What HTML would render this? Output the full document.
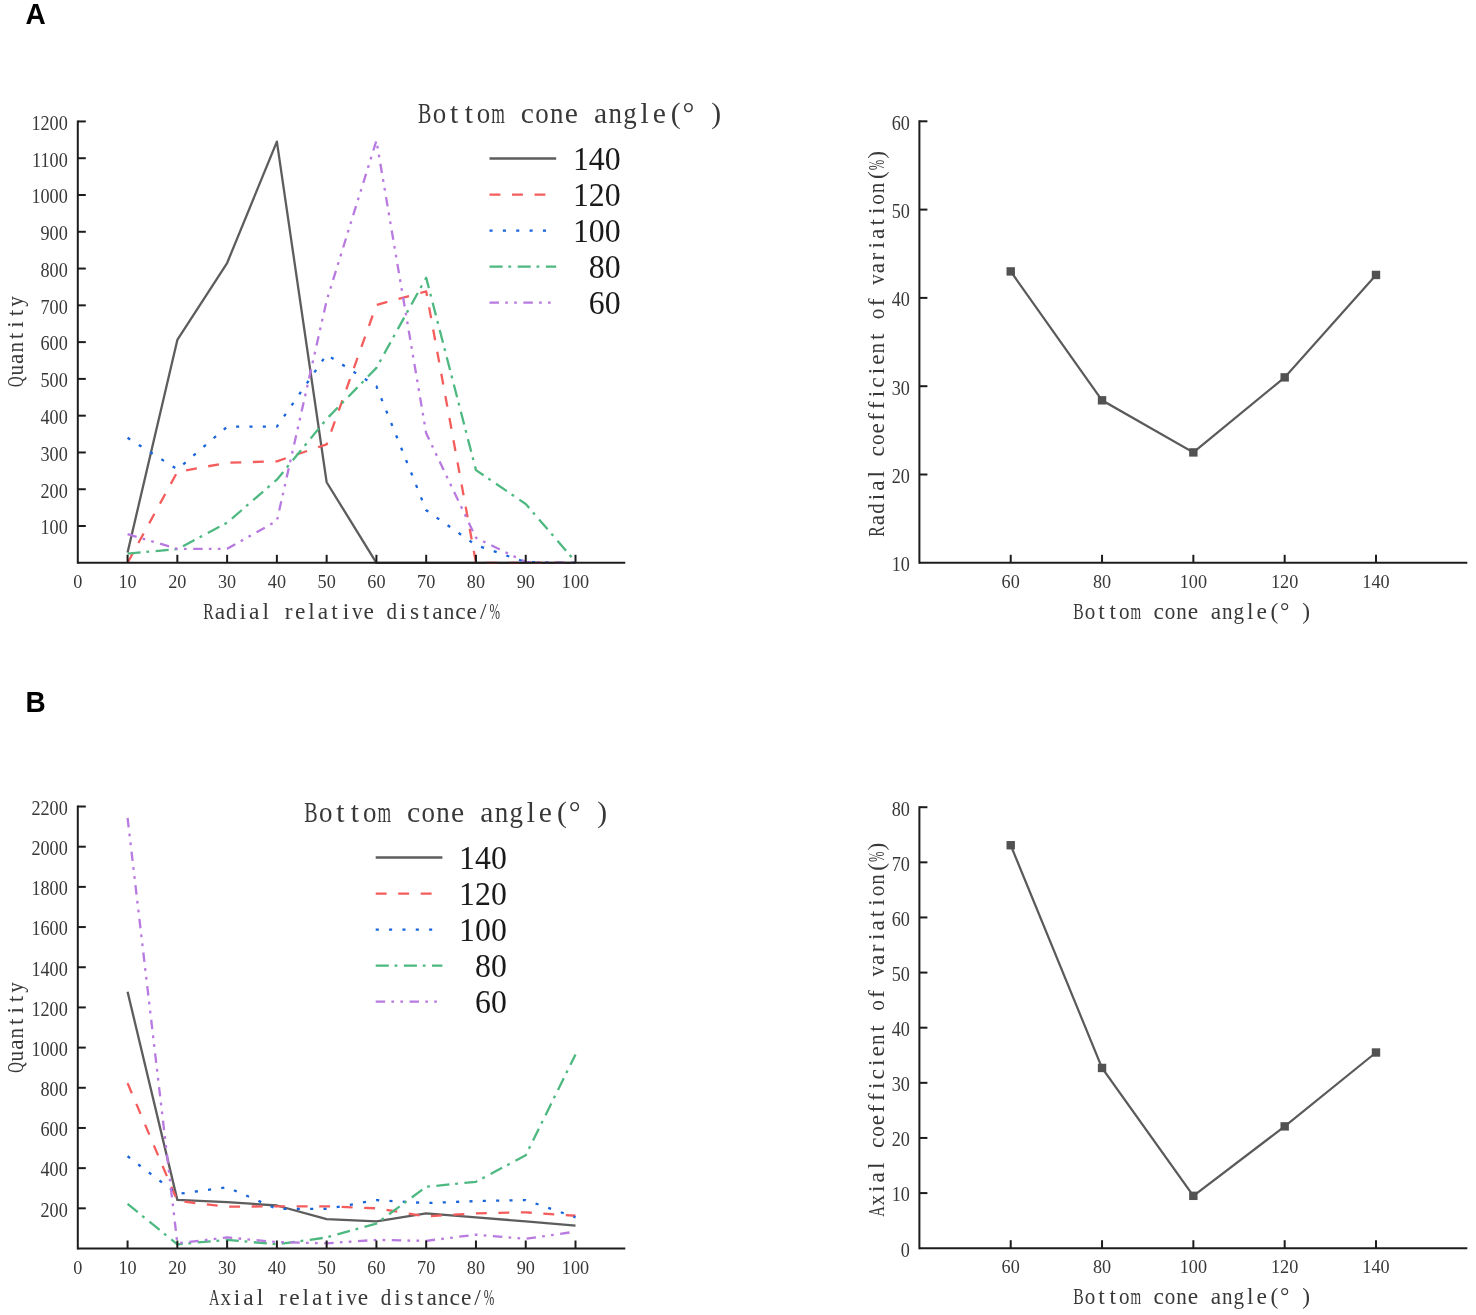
<!DOCTYPE html>
<html><head><meta charset="utf-8"><title>Bottom cone angle charts</title>
<style>html,body{margin:0;padding:0;background:#fff;}svg{display:block;filter:blur(0.35px);}</style>
</head><body>
<svg width="1476" height="1315" viewBox="0 0 1476 1315">
<rect width="1476" height="1315" fill="#fff"/>
<text transform="translate(25.6,23.8) scale(0.965,1)" font-family='"Liberation Sans", sans-serif' font-weight="bold" font-size="29" fill="#000">A</text>
<text transform="translate(25.4,711.9) scale(0.965,1)" font-family='"Liberation Sans", sans-serif' font-weight="bold" font-size="29" fill="#000">B</text>
<polyline points="127.57,552.5 177.34,339.91 227.11,263.04 276.88,141.67 326.65,482.25 376.42,562.8 426.19,562.8 475.96,562.8 525.73,562.8 575.5,562.8" fill="none" stroke="#5d5d5d" stroke-width="2.3" stroke-linejoin="round" />
<polyline points="127.57,562.8 177.34,471.95 227.11,462.76 276.88,461.29 326.65,444.37 376.42,304.97 426.19,291.36 475.96,562.8 525.73,562.8 575.5,562.8" fill="none" stroke="#f55c5c" stroke-width="2.3" stroke-linejoin="round" stroke-dasharray="10.9 11.6" stroke-dashoffset="0"/>
<polyline points="127.57,437.75 177.34,469.38 227.11,426.71 276.88,426.71 326.65,354.63 376.42,386.26 426.19,510.2 475.96,545.15 525.73,562.06 575.5,562.8" fill="none" stroke="#1864dc" stroke-width="2.3" stroke-linejoin="round" stroke-dasharray="3.1 10.25" stroke-dashoffset="0"/>
<polyline points="127.57,553.6 177.34,549.19 227.11,522.71 276.88,479.68 326.65,418.99 376.42,367.87 426.19,277.75 475.96,470.11 525.73,503.95 575.5,561.7" fill="none" stroke="#4db880" stroke-width="2.3" stroke-linejoin="round" stroke-dasharray="13.1 5.75 2.8 6.52" stroke-dashoffset="0"/>
<polyline points="127.57,534.11 177.34,548.82 227.11,548.82 276.88,520.87 326.65,300.56 376.42,140.57 426.19,433.33 475.96,537.79 525.73,562.06 575.5,562.8" fill="none" stroke="#b87ae0" stroke-width="2.3" stroke-linejoin="round" stroke-dasharray="9.45 6.25 2.7 6.25 2.7 6.51" stroke-dashoffset="0"/>
<line x1="77.8" y1="562.8" x2="625.27" y2="562.8" stroke="#1c1c1c" stroke-width="2" />
<line x1="77.8" y1="563.8" x2="77.8" y2="120.44" stroke="#1c1c1c" stroke-width="2" />
<line x1="127.57" y1="562.8" x2="127.57" y2="554.8" stroke="#1c1c1c" stroke-width="2" />
<line x1="177.34" y1="562.8" x2="177.34" y2="554.8" stroke="#1c1c1c" stroke-width="2" />
<line x1="227.11" y1="562.8" x2="227.11" y2="554.8" stroke="#1c1c1c" stroke-width="2" />
<line x1="276.88" y1="562.8" x2="276.88" y2="554.8" stroke="#1c1c1c" stroke-width="2" />
<line x1="326.65" y1="562.8" x2="326.65" y2="554.8" stroke="#1c1c1c" stroke-width="2" />
<line x1="376.42" y1="562.8" x2="376.42" y2="554.8" stroke="#1c1c1c" stroke-width="2" />
<line x1="426.19" y1="562.8" x2="426.19" y2="554.8" stroke="#1c1c1c" stroke-width="2" />
<line x1="475.96" y1="562.8" x2="475.96" y2="554.8" stroke="#1c1c1c" stroke-width="2" />
<line x1="525.73" y1="562.8" x2="525.73" y2="554.8" stroke="#1c1c1c" stroke-width="2" />
<line x1="575.5" y1="562.8" x2="575.5" y2="554.8" stroke="#1c1c1c" stroke-width="2" />
<line x1="77.8" y1="526.02" x2="85.8" y2="526.02" stroke="#1c1c1c" stroke-width="2" />
<line x1="77.8" y1="489.24" x2="85.8" y2="489.24" stroke="#1c1c1c" stroke-width="2" />
<line x1="77.8" y1="452.46" x2="85.8" y2="452.46" stroke="#1c1c1c" stroke-width="2" />
<line x1="77.8" y1="415.68" x2="85.8" y2="415.68" stroke="#1c1c1c" stroke-width="2" />
<line x1="77.8" y1="378.9" x2="85.8" y2="378.9" stroke="#1c1c1c" stroke-width="2" />
<line x1="77.8" y1="342.12" x2="85.8" y2="342.12" stroke="#1c1c1c" stroke-width="2" />
<line x1="77.8" y1="305.34" x2="85.8" y2="305.34" stroke="#1c1c1c" stroke-width="2" />
<line x1="77.8" y1="268.56" x2="85.8" y2="268.56" stroke="#1c1c1c" stroke-width="2" />
<line x1="77.8" y1="231.78" x2="85.8" y2="231.78" stroke="#1c1c1c" stroke-width="2" />
<line x1="77.8" y1="195" x2="85.8" y2="195" stroke="#1c1c1c" stroke-width="2" />
<line x1="77.8" y1="158.22" x2="85.8" y2="158.22" stroke="#1c1c1c" stroke-width="2" />
<line x1="77.8" y1="121.44" x2="85.8" y2="121.44" stroke="#1c1c1c" stroke-width="2" />
<text transform="translate(77.8,587.8) scale(0.92,1)" font-family='"Liberation Serif", serif' font-size="19.8" text-anchor="middle" fill="#383838">0</text>
<text transform="translate(127.57,587.8) scale(0.92,1)" font-family='"Liberation Serif", serif' font-size="19.8" text-anchor="middle" fill="#383838">10</text>
<text transform="translate(177.34,587.8) scale(0.92,1)" font-family='"Liberation Serif", serif' font-size="19.8" text-anchor="middle" fill="#383838">20</text>
<text transform="translate(227.11,587.8) scale(0.92,1)" font-family='"Liberation Serif", serif' font-size="19.8" text-anchor="middle" fill="#383838">30</text>
<text transform="translate(276.88,587.8) scale(0.92,1)" font-family='"Liberation Serif", serif' font-size="19.8" text-anchor="middle" fill="#383838">40</text>
<text transform="translate(326.65,587.8) scale(0.92,1)" font-family='"Liberation Serif", serif' font-size="19.8" text-anchor="middle" fill="#383838">50</text>
<text transform="translate(376.42,587.8) scale(0.92,1)" font-family='"Liberation Serif", serif' font-size="19.8" text-anchor="middle" fill="#383838">60</text>
<text transform="translate(426.19,587.8) scale(0.92,1)" font-family='"Liberation Serif", serif' font-size="19.8" text-anchor="middle" fill="#383838">70</text>
<text transform="translate(475.96,587.8) scale(0.92,1)" font-family='"Liberation Serif", serif' font-size="19.8" text-anchor="middle" fill="#383838">80</text>
<text transform="translate(525.73,587.8) scale(0.92,1)" font-family='"Liberation Serif", serif' font-size="19.8" text-anchor="middle" fill="#383838">90</text>
<text transform="translate(575.5,587.8) scale(0.92,1)" font-family='"Liberation Serif", serif' font-size="19.8" text-anchor="middle" fill="#383838">100</text>
<text transform="translate(67.8,534.32) scale(0.85,1)" font-family='"Liberation Serif", serif' font-size="21.4" text-anchor="end" fill="#383838">100</text>
<text transform="translate(67.8,497.54) scale(0.85,1)" font-family='"Liberation Serif", serif' font-size="21.4" text-anchor="end" fill="#383838">200</text>
<text transform="translate(67.8,460.76) scale(0.85,1)" font-family='"Liberation Serif", serif' font-size="21.4" text-anchor="end" fill="#383838">300</text>
<text transform="translate(67.8,423.98) scale(0.85,1)" font-family='"Liberation Serif", serif' font-size="21.4" text-anchor="end" fill="#383838">400</text>
<text transform="translate(67.8,387.2) scale(0.85,1)" font-family='"Liberation Serif", serif' font-size="21.4" text-anchor="end" fill="#383838">500</text>
<text transform="translate(67.8,350.42) scale(0.85,1)" font-family='"Liberation Serif", serif' font-size="21.4" text-anchor="end" fill="#383838">600</text>
<text transform="translate(67.8,313.64) scale(0.85,1)" font-family='"Liberation Serif", serif' font-size="21.4" text-anchor="end" fill="#383838">700</text>
<text transform="translate(67.8,276.86) scale(0.85,1)" font-family='"Liberation Serif", serif' font-size="21.4" text-anchor="end" fill="#383838">800</text>
<text transform="translate(67.8,240.08) scale(0.85,1)" font-family='"Liberation Serif", serif' font-size="21.4" text-anchor="end" fill="#383838">900</text>
<text transform="translate(67.8,203.3) scale(0.85,1)" font-family='"Liberation Serif", serif' font-size="21.4" text-anchor="end" fill="#383838">1000</text>
<text transform="translate(67.8,166.52) scale(0.85,1)" font-family='"Liberation Serif", serif' font-size="21.4" text-anchor="end" fill="#383838">1100</text>
<text transform="translate(67.8,129.74) scale(0.85,1)" font-family='"Liberation Serif", serif' font-size="21.4" text-anchor="end" fill="#383838">1200</text>
<g transform="translate(351.6,618.8)" font-family='"Liberation Serif", serif' font-size="23.4" fill="#383838"><text transform="translate(-143.12,0) scale(0.67,1)" text-anchor="middle">R</text><text x="-131.68" text-anchor="middle">a</text><text transform="translate(-120.22,0) scale(0.9,1)" text-anchor="middle">d</text><text x="-108.78" text-anchor="middle">i</text><text x="-97.32" text-anchor="middle">a</text><text x="-85.88" text-anchor="middle">l</text><text x="-62.97" text-anchor="middle">r</text><text x="-51.53" text-anchor="middle">e</text><text x="-40.08" text-anchor="middle">l</text><text x="-28.62" text-anchor="middle">a</text><text x="-17.18" text-anchor="middle">t</text><text x="-5.72" text-anchor="middle">i</text><text transform="translate(5.72,0) scale(0.9,1)" text-anchor="middle">v</text><text x="17.17" text-anchor="middle">e</text><text transform="translate(40.07,0) scale(0.9,1)" text-anchor="middle">d</text><text x="51.53" text-anchor="middle">i</text><text x="62.97" text-anchor="middle">s</text><text x="74.42" text-anchor="middle">t</text><text x="85.88" text-anchor="middle">a</text><text transform="translate(97.32,0) scale(0.9,1)" text-anchor="middle">n</text><text x="108.78" text-anchor="middle">c</text><text x="120.22" text-anchor="middle">e</text><text x="131.67" text-anchor="middle">/</text><text transform="translate(143.12,0) scale(0.54,1)" text-anchor="middle">%</text></g>
<g transform="translate(22.6,341.6) rotate(-90)" font-family='"Liberation Serif", serif' font-size="23.4" fill="#383838"><text transform="translate(-40.07,0) scale(0.62,1)" text-anchor="middle">Q</text><text transform="translate(-28.62,0) scale(0.9,1)" text-anchor="middle">u</text><text x="-17.17" text-anchor="middle">a</text><text transform="translate(-5.73,0) scale(0.9,1)" text-anchor="middle">n</text><text x="5.73" text-anchor="middle">t</text><text x="17.17" text-anchor="middle">i</text><text x="28.62" text-anchor="middle">t</text><text transform="translate(40.08,0) scale(0.9,1)" text-anchor="middle">y</text></g>
<g transform="translate(571.33,122.5)" font-family='"Liberation Serif", serif' font-size="29.6" fill="#383838"><text transform="translate(-146.5,0) scale(0.68,1)" text-anchor="middle">B</text><text transform="translate(-131.85,0) scale(0.91,1)" text-anchor="middle">o</text><text x="-117.2" text-anchor="middle">t</text><text x="-102.55" text-anchor="middle">t</text><text transform="translate(-87.9,0) scale(0.91,1)" text-anchor="middle">o</text><text transform="translate(-73.25,0) scale(0.59,1)" text-anchor="middle">m</text><text x="-43.95" text-anchor="middle">c</text><text transform="translate(-29.3,0) scale(0.91,1)" text-anchor="middle">o</text><text transform="translate(-14.65,0) scale(0.91,1)" text-anchor="middle">n</text><text x="0" text-anchor="middle">e</text><text x="29.3" text-anchor="middle">a</text><text transform="translate(43.95,0) scale(0.91,1)" text-anchor="middle">n</text><text transform="translate(58.6,0) scale(0.91,1)" text-anchor="middle">g</text><text x="73.25" text-anchor="middle">l</text><text x="87.9" text-anchor="middle">e</text><text x="104.31" text-anchor="middle">(</text><text x="117.2" text-anchor="middle">&#176;</text><text x="144.74" text-anchor="middle">)</text></g>
<line x1="489.5" y1="158.5" x2="556.2" y2="158.5" stroke="#5d5d5d" stroke-width="2.3" />
<text transform="translate(620.6,170.1) scale(0.95,1)" font-family='"Liberation Serif", serif' font-size="33.5" text-anchor="end" fill="#1a1a1a">140</text>
<line x1="489.5" y1="194.55" x2="556.2" y2="194.55" stroke="#f55c5c" stroke-width="2.3" stroke-dasharray="10.9 11.6"/>
<text transform="translate(620.6,206.15) scale(0.95,1)" font-family='"Liberation Serif", serif' font-size="33.5" text-anchor="end" fill="#1a1a1a">120</text>
<line x1="489.5" y1="230.6" x2="556.2" y2="230.6" stroke="#1864dc" stroke-width="2.3" stroke-dasharray="3.1 10.25"/>
<text transform="translate(620.6,242.2) scale(0.95,1)" font-family='"Liberation Serif", serif' font-size="33.5" text-anchor="end" fill="#1a1a1a">100</text>
<line x1="489.5" y1="266.65" x2="556.2" y2="266.65" stroke="#4db880" stroke-width="2.3" stroke-dasharray="13.1 5.75 2.8 6.52"/>
<text transform="translate(620.6,278.25) scale(0.95,1)" font-family='"Liberation Serif", serif' font-size="33.5" text-anchor="end" fill="#1a1a1a">80</text>
<line x1="489.5" y1="302.7" x2="556.2" y2="302.7" stroke="#b87ae0" stroke-width="2.3" stroke-dasharray="9.45 6.25 2.7 6.25 2.7 6.51"/>
<text transform="translate(620.6,314.3) scale(0.95,1)" font-family='"Liberation Serif", serif' font-size="33.5" text-anchor="end" fill="#1a1a1a">60</text>
<polyline points="127.57,991.75 177.34,1199.88 227.11,1202.09 276.88,1205.51 326.65,1219.17 376.42,1221.38 426.19,1213.34 475.96,1217.36 525.73,1221.38 575.5,1225.6" fill="none" stroke="#5d5d5d" stroke-width="2.3" stroke-linejoin="round" />
<polyline points="127.57,1083.16 177.34,1200.89 227.11,1206.71 276.88,1206.31 326.65,1206.31 376.42,1208.32 426.19,1216.36 475.96,1213.34 525.73,1212.34 575.5,1215.75" fill="none" stroke="#f55c5c" stroke-width="2.3" stroke-linejoin="round" stroke-dasharray="10.9 11.6" stroke-dashoffset="0"/>
<polyline points="127.57,1156.29 177.34,1194.06 227.11,1187.23 276.88,1208.92 326.65,1208.92 376.42,1200.08 426.19,1203.1 475.96,1201.09 525.73,1200.08 575.5,1217.36" fill="none" stroke="#1864dc" stroke-width="2.3" stroke-linejoin="round" stroke-dasharray="3.1 10.25" stroke-dashoffset="0"/>
<polyline points="127.57,1203.9 177.34,1244.28 227.11,1239.86 276.88,1244.28 326.65,1237.45 376.42,1223.59 426.19,1186.82 475.96,1181.8 525.73,1155.28 575.5,1054.43" fill="none" stroke="#4db880" stroke-width="2.3" stroke-linejoin="round" stroke-dasharray="13.1 5.75 2.8 6.52" stroke-dashoffset="0"/>
<polyline points="127.57,817.97 177.34,1243.28 227.11,1237.45 276.88,1242.07 326.65,1243.28 376.42,1239.86 426.19,1240.87 475.96,1234.64 525.73,1238.86 575.5,1231.62" fill="none" stroke="#b87ae0" stroke-width="2.3" stroke-linejoin="round" stroke-dasharray="9.45 6.25 2.7 6.25 2.7 6.51" stroke-dashoffset="0"/>
<line x1="77.8" y1="1248.5" x2="625.27" y2="1248.5" stroke="#1c1c1c" stroke-width="2" />
<line x1="77.8" y1="1249.5" x2="77.8" y2="805.52" stroke="#1c1c1c" stroke-width="2" />
<line x1="127.57" y1="1248.5" x2="127.57" y2="1240.5" stroke="#1c1c1c" stroke-width="2" />
<line x1="177.34" y1="1248.5" x2="177.34" y2="1240.5" stroke="#1c1c1c" stroke-width="2" />
<line x1="227.11" y1="1248.5" x2="227.11" y2="1240.5" stroke="#1c1c1c" stroke-width="2" />
<line x1="276.88" y1="1248.5" x2="276.88" y2="1240.5" stroke="#1c1c1c" stroke-width="2" />
<line x1="326.65" y1="1248.5" x2="326.65" y2="1240.5" stroke="#1c1c1c" stroke-width="2" />
<line x1="376.42" y1="1248.5" x2="376.42" y2="1240.5" stroke="#1c1c1c" stroke-width="2" />
<line x1="426.19" y1="1248.5" x2="426.19" y2="1240.5" stroke="#1c1c1c" stroke-width="2" />
<line x1="475.96" y1="1248.5" x2="475.96" y2="1240.5" stroke="#1c1c1c" stroke-width="2" />
<line x1="525.73" y1="1248.5" x2="525.73" y2="1240.5" stroke="#1c1c1c" stroke-width="2" />
<line x1="575.5" y1="1248.5" x2="575.5" y2="1240.5" stroke="#1c1c1c" stroke-width="2" />
<line x1="77.8" y1="1208.32" x2="85.8" y2="1208.32" stroke="#1c1c1c" stroke-width="2" />
<line x1="77.8" y1="1168.14" x2="85.8" y2="1168.14" stroke="#1c1c1c" stroke-width="2" />
<line x1="77.8" y1="1127.96" x2="85.8" y2="1127.96" stroke="#1c1c1c" stroke-width="2" />
<line x1="77.8" y1="1087.78" x2="85.8" y2="1087.78" stroke="#1c1c1c" stroke-width="2" />
<line x1="77.8" y1="1047.6" x2="85.8" y2="1047.6" stroke="#1c1c1c" stroke-width="2" />
<line x1="77.8" y1="1007.42" x2="85.8" y2="1007.42" stroke="#1c1c1c" stroke-width="2" />
<line x1="77.8" y1="967.24" x2="85.8" y2="967.24" stroke="#1c1c1c" stroke-width="2" />
<line x1="77.8" y1="927.06" x2="85.8" y2="927.06" stroke="#1c1c1c" stroke-width="2" />
<line x1="77.8" y1="886.88" x2="85.8" y2="886.88" stroke="#1c1c1c" stroke-width="2" />
<line x1="77.8" y1="846.7" x2="85.8" y2="846.7" stroke="#1c1c1c" stroke-width="2" />
<line x1="77.8" y1="806.52" x2="85.8" y2="806.52" stroke="#1c1c1c" stroke-width="2" />
<text transform="translate(77.8,1273.5) scale(0.92,1)" font-family='"Liberation Serif", serif' font-size="19.8" text-anchor="middle" fill="#383838">0</text>
<text transform="translate(127.57,1273.5) scale(0.92,1)" font-family='"Liberation Serif", serif' font-size="19.8" text-anchor="middle" fill="#383838">10</text>
<text transform="translate(177.34,1273.5) scale(0.92,1)" font-family='"Liberation Serif", serif' font-size="19.8" text-anchor="middle" fill="#383838">20</text>
<text transform="translate(227.11,1273.5) scale(0.92,1)" font-family='"Liberation Serif", serif' font-size="19.8" text-anchor="middle" fill="#383838">30</text>
<text transform="translate(276.88,1273.5) scale(0.92,1)" font-family='"Liberation Serif", serif' font-size="19.8" text-anchor="middle" fill="#383838">40</text>
<text transform="translate(326.65,1273.5) scale(0.92,1)" font-family='"Liberation Serif", serif' font-size="19.8" text-anchor="middle" fill="#383838">50</text>
<text transform="translate(376.42,1273.5) scale(0.92,1)" font-family='"Liberation Serif", serif' font-size="19.8" text-anchor="middle" fill="#383838">60</text>
<text transform="translate(426.19,1273.5) scale(0.92,1)" font-family='"Liberation Serif", serif' font-size="19.8" text-anchor="middle" fill="#383838">70</text>
<text transform="translate(475.96,1273.5) scale(0.92,1)" font-family='"Liberation Serif", serif' font-size="19.8" text-anchor="middle" fill="#383838">80</text>
<text transform="translate(525.73,1273.5) scale(0.92,1)" font-family='"Liberation Serif", serif' font-size="19.8" text-anchor="middle" fill="#383838">90</text>
<text transform="translate(575.5,1273.5) scale(0.92,1)" font-family='"Liberation Serif", serif' font-size="19.8" text-anchor="middle" fill="#383838">100</text>
<text transform="translate(67.8,1216.62) scale(0.85,1)" font-family='"Liberation Serif", serif' font-size="21.4" text-anchor="end" fill="#383838">200</text>
<text transform="translate(67.8,1176.44) scale(0.85,1)" font-family='"Liberation Serif", serif' font-size="21.4" text-anchor="end" fill="#383838">400</text>
<text transform="translate(67.8,1136.26) scale(0.85,1)" font-family='"Liberation Serif", serif' font-size="21.4" text-anchor="end" fill="#383838">600</text>
<text transform="translate(67.8,1096.08) scale(0.85,1)" font-family='"Liberation Serif", serif' font-size="21.4" text-anchor="end" fill="#383838">800</text>
<text transform="translate(67.8,1055.9) scale(0.85,1)" font-family='"Liberation Serif", serif' font-size="21.4" text-anchor="end" fill="#383838">1000</text>
<text transform="translate(67.8,1015.72) scale(0.85,1)" font-family='"Liberation Serif", serif' font-size="21.4" text-anchor="end" fill="#383838">1200</text>
<text transform="translate(67.8,975.54) scale(0.85,1)" font-family='"Liberation Serif", serif' font-size="21.4" text-anchor="end" fill="#383838">1400</text>
<text transform="translate(67.8,935.36) scale(0.85,1)" font-family='"Liberation Serif", serif' font-size="21.4" text-anchor="end" fill="#383838">1600</text>
<text transform="translate(67.8,895.18) scale(0.85,1)" font-family='"Liberation Serif", serif' font-size="21.4" text-anchor="end" fill="#383838">1800</text>
<text transform="translate(67.8,855) scale(0.85,1)" font-family='"Liberation Serif", serif' font-size="21.4" text-anchor="end" fill="#383838">2000</text>
<text transform="translate(67.8,814.82) scale(0.85,1)" font-family='"Liberation Serif", serif' font-size="21.4" text-anchor="end" fill="#383838">2200</text>
<g transform="translate(351.6,1304.5)" font-family='"Liberation Serif", serif' font-size="23.4" fill="#383838"><text transform="translate(-137.4,0) scale(0.62,1)" text-anchor="middle">A</text><text transform="translate(-125.95,0) scale(0.9,1)" text-anchor="middle">x</text><text x="-114.5" text-anchor="middle">i</text><text x="-103.05" text-anchor="middle">a</text><text x="-91.6" text-anchor="middle">l</text><text x="-68.7" text-anchor="middle">r</text><text x="-57.25" text-anchor="middle">e</text><text x="-45.8" text-anchor="middle">l</text><text x="-34.35" text-anchor="middle">a</text><text x="-22.9" text-anchor="middle">t</text><text x="-11.45" text-anchor="middle">i</text><text transform="translate(0,0) scale(0.9,1)" text-anchor="middle">v</text><text x="11.45" text-anchor="middle">e</text><text transform="translate(34.35,0) scale(0.9,1)" text-anchor="middle">d</text><text x="45.8" text-anchor="middle">i</text><text x="57.25" text-anchor="middle">s</text><text x="68.7" text-anchor="middle">t</text><text x="80.15" text-anchor="middle">a</text><text transform="translate(91.6,0) scale(0.9,1)" text-anchor="middle">n</text><text x="103.05" text-anchor="middle">c</text><text x="114.5" text-anchor="middle">e</text><text x="125.95" text-anchor="middle">/</text><text transform="translate(137.4,0) scale(0.54,1)" text-anchor="middle">%</text></g>
<g transform="translate(22.6,1027.5) rotate(-90)" font-family='"Liberation Serif", serif' font-size="23.4" fill="#383838"><text transform="translate(-40.07,0) scale(0.62,1)" text-anchor="middle">Q</text><text transform="translate(-28.62,0) scale(0.9,1)" text-anchor="middle">u</text><text x="-17.17" text-anchor="middle">a</text><text transform="translate(-5.73,0) scale(0.9,1)" text-anchor="middle">n</text><text x="5.73" text-anchor="middle">t</text><text x="17.17" text-anchor="middle">i</text><text x="28.62" text-anchor="middle">t</text><text transform="translate(40.08,0) scale(0.9,1)" text-anchor="middle">y</text></g>
<g transform="translate(457.52,821.5)" font-family='"Liberation Serif", serif' font-size="29.6" fill="#383838"><text transform="translate(-146.5,0) scale(0.68,1)" text-anchor="middle">B</text><text transform="translate(-131.85,0) scale(0.91,1)" text-anchor="middle">o</text><text x="-117.2" text-anchor="middle">t</text><text x="-102.55" text-anchor="middle">t</text><text transform="translate(-87.9,0) scale(0.91,1)" text-anchor="middle">o</text><text transform="translate(-73.25,0) scale(0.59,1)" text-anchor="middle">m</text><text x="-43.95" text-anchor="middle">c</text><text transform="translate(-29.3,0) scale(0.91,1)" text-anchor="middle">o</text><text transform="translate(-14.65,0) scale(0.91,1)" text-anchor="middle">n</text><text x="0" text-anchor="middle">e</text><text x="29.3" text-anchor="middle">a</text><text transform="translate(43.95,0) scale(0.91,1)" text-anchor="middle">n</text><text transform="translate(58.6,0) scale(0.91,1)" text-anchor="middle">g</text><text x="73.25" text-anchor="middle">l</text><text x="87.9" text-anchor="middle">e</text><text x="104.31" text-anchor="middle">(</text><text x="117.2" text-anchor="middle">&#176;</text><text x="144.74" text-anchor="middle">)</text></g>
<line x1="375.7" y1="857.5" x2="442.4" y2="857.5" stroke="#5d5d5d" stroke-width="2.3" />
<text transform="translate(506.8,869.1) scale(0.95,1)" font-family='"Liberation Serif", serif' font-size="33.5" text-anchor="end" fill="#1a1a1a">140</text>
<line x1="375.7" y1="893.55" x2="442.4" y2="893.55" stroke="#f55c5c" stroke-width="2.3" stroke-dasharray="10.9 11.6"/>
<text transform="translate(506.8,905.15) scale(0.95,1)" font-family='"Liberation Serif", serif' font-size="33.5" text-anchor="end" fill="#1a1a1a">120</text>
<line x1="375.7" y1="929.6" x2="442.4" y2="929.6" stroke="#1864dc" stroke-width="2.3" stroke-dasharray="3.1 10.25"/>
<text transform="translate(506.8,941.2) scale(0.95,1)" font-family='"Liberation Serif", serif' font-size="33.5" text-anchor="end" fill="#1a1a1a">100</text>
<line x1="375.7" y1="965.65" x2="442.4" y2="965.65" stroke="#4db880" stroke-width="2.3" stroke-dasharray="13.1 5.75 2.8 6.52"/>
<text transform="translate(506.8,977.25) scale(0.95,1)" font-family='"Liberation Serif", serif' font-size="33.5" text-anchor="end" fill="#1a1a1a">80</text>
<line x1="375.7" y1="1001.7" x2="442.4" y2="1001.7" stroke="#b87ae0" stroke-width="2.3" stroke-dasharray="9.45 6.25 2.7 6.25 2.7 6.51"/>
<text transform="translate(506.8,1013.3) scale(0.95,1)" font-family='"Liberation Serif", serif' font-size="33.5" text-anchor="end" fill="#1a1a1a">60</text>
<polyline points="1010.72,271.41 1102.04,400.33 1193.36,452.42 1284.68,377.37 1376,274.94" fill="none" stroke="#5a5a5a" stroke-width="2.2"/>
<rect x="1006.52" y="267.21" width="8.4" height="8.4" fill="#525252"/>
<rect x="1097.84" y="396.13" width="8.4" height="8.4" fill="#525252"/>
<rect x="1189.16" y="448.22" width="8.4" height="8.4" fill="#525252"/>
<rect x="1280.48" y="373.17" width="8.4" height="8.4" fill="#525252"/>
<rect x="1371.8" y="270.74" width="8.4" height="8.4" fill="#525252"/>
<line x1="919.4" y1="562.8" x2="1467.32" y2="562.8" stroke="#1c1c1c" stroke-width="2" />
<line x1="919.4" y1="563.8" x2="919.4" y2="120.3" stroke="#1c1c1c" stroke-width="2" />
<line x1="1010.72" y1="562.8" x2="1010.72" y2="554.8" stroke="#1c1c1c" stroke-width="2" />
<text transform="translate(1010.72,587.8) scale(0.92,1)" font-family='"Liberation Serif", serif' font-size="19.8" text-anchor="middle" fill="#383838">60</text>
<line x1="1102.04" y1="562.8" x2="1102.04" y2="554.8" stroke="#1c1c1c" stroke-width="2" />
<text transform="translate(1102.04,587.8) scale(0.92,1)" font-family='"Liberation Serif", serif' font-size="19.8" text-anchor="middle" fill="#383838">80</text>
<line x1="1193.36" y1="562.8" x2="1193.36" y2="554.8" stroke="#1c1c1c" stroke-width="2" />
<text transform="translate(1193.36,587.8) scale(0.92,1)" font-family='"Liberation Serif", serif' font-size="19.8" text-anchor="middle" fill="#383838">100</text>
<line x1="1284.68" y1="562.8" x2="1284.68" y2="554.8" stroke="#1c1c1c" stroke-width="2" />
<text transform="translate(1284.68,587.8) scale(0.92,1)" font-family='"Liberation Serif", serif' font-size="19.8" text-anchor="middle" fill="#383838">120</text>
<line x1="1376" y1="562.8" x2="1376" y2="554.8" stroke="#1c1c1c" stroke-width="2" />
<text transform="translate(1376,587.8) scale(0.92,1)" font-family='"Liberation Serif", serif' font-size="19.8" text-anchor="middle" fill="#383838">140</text>
<text transform="translate(909.9,571.1) scale(0.85,1)" font-family='"Liberation Serif", serif' font-size="21.4" text-anchor="end" fill="#383838">10</text>
<line x1="919.4" y1="474.5" x2="927.4" y2="474.5" stroke="#1c1c1c" stroke-width="2" />
<text transform="translate(909.9,482.8) scale(0.85,1)" font-family='"Liberation Serif", serif' font-size="21.4" text-anchor="end" fill="#383838">20</text>
<line x1="919.4" y1="386.2" x2="927.4" y2="386.2" stroke="#1c1c1c" stroke-width="2" />
<text transform="translate(909.9,394.5) scale(0.85,1)" font-family='"Liberation Serif", serif' font-size="21.4" text-anchor="end" fill="#383838">30</text>
<line x1="919.4" y1="297.9" x2="927.4" y2="297.9" stroke="#1c1c1c" stroke-width="2" />
<text transform="translate(909.9,306.2) scale(0.85,1)" font-family='"Liberation Serif", serif' font-size="21.4" text-anchor="end" fill="#383838">40</text>
<line x1="919.4" y1="209.6" x2="927.4" y2="209.6" stroke="#1c1c1c" stroke-width="2" />
<text transform="translate(909.9,217.9) scale(0.85,1)" font-family='"Liberation Serif", serif' font-size="21.4" text-anchor="end" fill="#383838">50</text>
<line x1="919.4" y1="121.3" x2="927.4" y2="121.3" stroke="#1c1c1c" stroke-width="2" />
<text transform="translate(909.9,129.6) scale(0.85,1)" font-family='"Liberation Serif", serif' font-size="21.4" text-anchor="end" fill="#383838">60</text>
<g transform="translate(1193,618.8)" font-family='"Liberation Serif", serif' font-size="23.4" fill="#383838"><text transform="translate(-114.5,0) scale(0.67,1)" text-anchor="middle">B</text><text transform="translate(-103.05,0) scale(0.9,1)" text-anchor="middle">o</text><text x="-91.6" text-anchor="middle">t</text><text x="-80.15" text-anchor="middle">t</text><text transform="translate(-68.7,0) scale(0.9,1)" text-anchor="middle">o</text><text transform="translate(-57.25,0) scale(0.58,1)" text-anchor="middle">m</text><text x="-34.35" text-anchor="middle">c</text><text transform="translate(-22.9,0) scale(0.9,1)" text-anchor="middle">o</text><text transform="translate(-11.45,0) scale(0.9,1)" text-anchor="middle">n</text><text x="0" text-anchor="middle">e</text><text x="22.9" text-anchor="middle">a</text><text transform="translate(34.35,0) scale(0.9,1)" text-anchor="middle">n</text><text transform="translate(45.8,0) scale(0.9,1)" text-anchor="middle">g</text><text x="57.25" text-anchor="middle">l</text><text x="68.7" text-anchor="middle">e</text><text x="81.52" text-anchor="middle">(</text><text x="91.6" text-anchor="middle">&#176;</text><text x="113.13" text-anchor="middle">)</text></g>
<g transform="translate(883.8,342.5) rotate(-90)" font-family='"Liberation Serif", serif' font-size="23.4" fill="#383838"><text transform="translate(-188.92,0) scale(0.67,1)" text-anchor="middle">R</text><text x="-177.47" text-anchor="middle">a</text><text transform="translate(-166.02,0) scale(0.9,1)" text-anchor="middle">d</text><text x="-154.57" text-anchor="middle">i</text><text x="-143.12" text-anchor="middle">a</text><text x="-131.67" text-anchor="middle">l</text><text x="-108.77" text-anchor="middle">c</text><text transform="translate(-97.32,0) scale(0.9,1)" text-anchor="middle">o</text><text x="-85.87" text-anchor="middle">e</text><text x="-74.42" text-anchor="middle">f</text><text x="-62.97" text-anchor="middle">f</text><text x="-51.52" text-anchor="middle">i</text><text x="-40.07" text-anchor="middle">c</text><text x="-28.62" text-anchor="middle">i</text><text x="-17.17" text-anchor="middle">e</text><text transform="translate(-5.72,0) scale(0.9,1)" text-anchor="middle">n</text><text x="5.73" text-anchor="middle">t</text><text transform="translate(28.62,0) scale(0.9,1)" text-anchor="middle">o</text><text x="40.08" text-anchor="middle">f</text><text transform="translate(62.98,0) scale(0.9,1)" text-anchor="middle">v</text><text x="74.43" text-anchor="middle">a</text><text x="85.88" text-anchor="middle">r</text><text x="97.32" text-anchor="middle">i</text><text x="108.77" text-anchor="middle">a</text><text x="120.23" text-anchor="middle">t</text><text x="131.68" text-anchor="middle">i</text><text transform="translate(143.12,0) scale(0.9,1)" text-anchor="middle">o</text><text transform="translate(154.57,0) scale(0.9,1)" text-anchor="middle">n</text><text x="167.4" text-anchor="middle">(</text><text transform="translate(177.48,0) scale(0.54,1)" text-anchor="middle">%</text><text x="187.55" text-anchor="middle">)</text></g>
<polyline points="1010.72,845.24 1102.04,1067.94 1193.36,1195.83 1284.68,1126.37 1376,1052.51" fill="none" stroke="#5a5a5a" stroke-width="2.2"/>
<rect x="1006.52" y="841.04" width="8.4" height="8.4" fill="#525252"/>
<rect x="1097.84" y="1063.74" width="8.4" height="8.4" fill="#525252"/>
<rect x="1189.16" y="1191.63" width="8.4" height="8.4" fill="#525252"/>
<rect x="1280.48" y="1122.17" width="8.4" height="8.4" fill="#525252"/>
<rect x="1371.8" y="1048.31" width="8.4" height="8.4" fill="#525252"/>
<line x1="919.4" y1="1248.2" x2="1467.32" y2="1248.2" stroke="#1c1c1c" stroke-width="2" />
<line x1="919.4" y1="1249.2" x2="919.4" y2="806.2" stroke="#1c1c1c" stroke-width="2" />
<line x1="1010.72" y1="1248.2" x2="1010.72" y2="1240.2" stroke="#1c1c1c" stroke-width="2" />
<text transform="translate(1010.72,1273.2) scale(0.92,1)" font-family='"Liberation Serif", serif' font-size="19.8" text-anchor="middle" fill="#383838">60</text>
<line x1="1102.04" y1="1248.2" x2="1102.04" y2="1240.2" stroke="#1c1c1c" stroke-width="2" />
<text transform="translate(1102.04,1273.2) scale(0.92,1)" font-family='"Liberation Serif", serif' font-size="19.8" text-anchor="middle" fill="#383838">80</text>
<line x1="1193.36" y1="1248.2" x2="1193.36" y2="1240.2" stroke="#1c1c1c" stroke-width="2" />
<text transform="translate(1193.36,1273.2) scale(0.92,1)" font-family='"Liberation Serif", serif' font-size="19.8" text-anchor="middle" fill="#383838">100</text>
<line x1="1284.68" y1="1248.2" x2="1284.68" y2="1240.2" stroke="#1c1c1c" stroke-width="2" />
<text transform="translate(1284.68,1273.2) scale(0.92,1)" font-family='"Liberation Serif", serif' font-size="19.8" text-anchor="middle" fill="#383838">120</text>
<line x1="1376" y1="1248.2" x2="1376" y2="1240.2" stroke="#1c1c1c" stroke-width="2" />
<text transform="translate(1376,1273.2) scale(0.92,1)" font-family='"Liberation Serif", serif' font-size="19.8" text-anchor="middle" fill="#383838">140</text>
<text transform="translate(909.9,1256.5) scale(0.85,1)" font-family='"Liberation Serif", serif' font-size="21.4" text-anchor="end" fill="#383838">0</text>
<line x1="919.4" y1="1193.08" x2="927.4" y2="1193.08" stroke="#1c1c1c" stroke-width="2" />
<text transform="translate(909.9,1201.38) scale(0.85,1)" font-family='"Liberation Serif", serif' font-size="21.4" text-anchor="end" fill="#383838">10</text>
<line x1="919.4" y1="1137.95" x2="927.4" y2="1137.95" stroke="#1c1c1c" stroke-width="2" />
<text transform="translate(909.9,1146.25) scale(0.85,1)" font-family='"Liberation Serif", serif' font-size="21.4" text-anchor="end" fill="#383838">20</text>
<line x1="919.4" y1="1082.83" x2="927.4" y2="1082.83" stroke="#1c1c1c" stroke-width="2" />
<text transform="translate(909.9,1091.12) scale(0.85,1)" font-family='"Liberation Serif", serif' font-size="21.4" text-anchor="end" fill="#383838">30</text>
<line x1="919.4" y1="1027.7" x2="927.4" y2="1027.7" stroke="#1c1c1c" stroke-width="2" />
<text transform="translate(909.9,1036) scale(0.85,1)" font-family='"Liberation Serif", serif' font-size="21.4" text-anchor="end" fill="#383838">40</text>
<line x1="919.4" y1="972.58" x2="927.4" y2="972.58" stroke="#1c1c1c" stroke-width="2" />
<text transform="translate(909.9,980.88) scale(0.85,1)" font-family='"Liberation Serif", serif' font-size="21.4" text-anchor="end" fill="#383838">50</text>
<line x1="919.4" y1="917.45" x2="927.4" y2="917.45" stroke="#1c1c1c" stroke-width="2" />
<text transform="translate(909.9,925.75) scale(0.85,1)" font-family='"Liberation Serif", serif' font-size="21.4" text-anchor="end" fill="#383838">60</text>
<line x1="919.4" y1="862.33" x2="927.4" y2="862.33" stroke="#1c1c1c" stroke-width="2" />
<text transform="translate(909.9,870.62) scale(0.85,1)" font-family='"Liberation Serif", serif' font-size="21.4" text-anchor="end" fill="#383838">70</text>
<line x1="919.4" y1="807.2" x2="927.4" y2="807.2" stroke="#1c1c1c" stroke-width="2" />
<text transform="translate(909.9,815.5) scale(0.85,1)" font-family='"Liberation Serif", serif' font-size="21.4" text-anchor="end" fill="#383838">80</text>
<g transform="translate(1193,1304.2)" font-family='"Liberation Serif", serif' font-size="23.4" fill="#383838"><text transform="translate(-114.5,0) scale(0.67,1)" text-anchor="middle">B</text><text transform="translate(-103.05,0) scale(0.9,1)" text-anchor="middle">o</text><text x="-91.6" text-anchor="middle">t</text><text x="-80.15" text-anchor="middle">t</text><text transform="translate(-68.7,0) scale(0.9,1)" text-anchor="middle">o</text><text transform="translate(-57.25,0) scale(0.58,1)" text-anchor="middle">m</text><text x="-34.35" text-anchor="middle">c</text><text transform="translate(-22.9,0) scale(0.9,1)" text-anchor="middle">o</text><text transform="translate(-11.45,0) scale(0.9,1)" text-anchor="middle">n</text><text x="0" text-anchor="middle">e</text><text x="22.9" text-anchor="middle">a</text><text transform="translate(34.35,0) scale(0.9,1)" text-anchor="middle">n</text><text transform="translate(45.8,0) scale(0.9,1)" text-anchor="middle">g</text><text x="57.25" text-anchor="middle">l</text><text x="68.7" text-anchor="middle">e</text><text x="81.52" text-anchor="middle">(</text><text x="91.6" text-anchor="middle">&#176;</text><text x="113.13" text-anchor="middle">)</text></g>
<g transform="translate(883.8,1028.4) rotate(-90)" font-family='"Liberation Serif", serif' font-size="23.4" fill="#383838"><text transform="translate(-183.2,0) scale(0.62,1)" text-anchor="middle">A</text><text transform="translate(-171.75,0) scale(0.9,1)" text-anchor="middle">x</text><text x="-160.3" text-anchor="middle">i</text><text x="-148.85" text-anchor="middle">a</text><text x="-137.4" text-anchor="middle">l</text><text x="-114.5" text-anchor="middle">c</text><text transform="translate(-103.05,0) scale(0.9,1)" text-anchor="middle">o</text><text x="-91.6" text-anchor="middle">e</text><text x="-80.15" text-anchor="middle">f</text><text x="-68.7" text-anchor="middle">f</text><text x="-57.25" text-anchor="middle">i</text><text x="-45.8" text-anchor="middle">c</text><text x="-34.35" text-anchor="middle">i</text><text x="-22.9" text-anchor="middle">e</text><text transform="translate(-11.45,0) scale(0.9,1)" text-anchor="middle">n</text><text x="0" text-anchor="middle">t</text><text transform="translate(22.9,0) scale(0.9,1)" text-anchor="middle">o</text><text x="34.35" text-anchor="middle">f</text><text transform="translate(57.25,0) scale(0.9,1)" text-anchor="middle">v</text><text x="68.7" text-anchor="middle">a</text><text x="80.15" text-anchor="middle">r</text><text x="91.6" text-anchor="middle">i</text><text x="103.05" text-anchor="middle">a</text><text x="114.5" text-anchor="middle">t</text><text x="125.95" text-anchor="middle">i</text><text transform="translate(137.4,0) scale(0.9,1)" text-anchor="middle">o</text><text transform="translate(148.85,0) scale(0.9,1)" text-anchor="middle">n</text><text x="161.67" text-anchor="middle">(</text><text transform="translate(171.75,0) scale(0.54,1)" text-anchor="middle">%</text><text x="181.83" text-anchor="middle">)</text></g>
</svg>
</body></html>
